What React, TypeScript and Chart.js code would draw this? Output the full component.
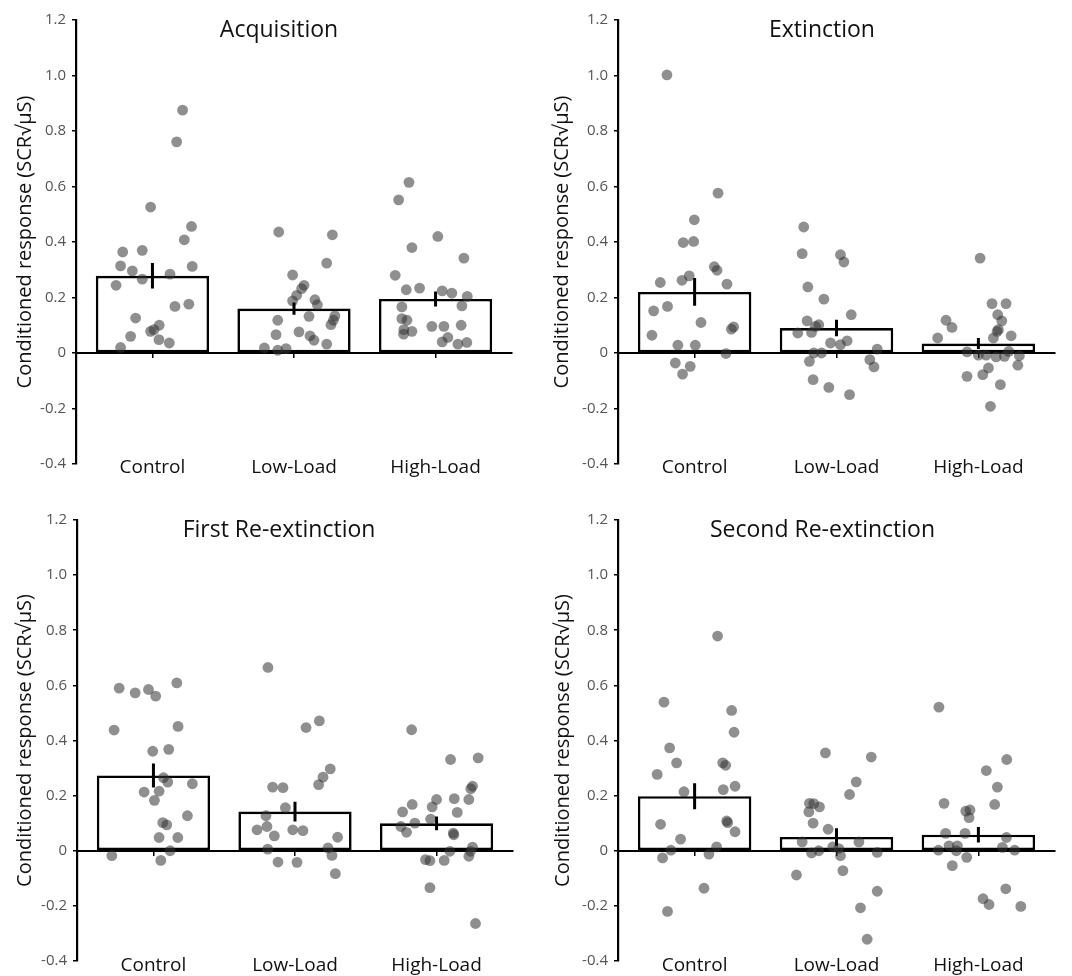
import React, { useEffect, useRef } from "react";
import { Chart, registerables } from "chart.js";

Chart.register(...registerables);

const FONT = "'Open Sans', 'DejaVu Sans', sans-serif";

// ---------- data ----------
const groups = ["Control", "Low-Load", "High-Load"];
const yTickValues = [-0.4, -0.2, 0, 0.2, 0.4, 0.6, 0.8, 1.0, 1.2];
const yAxisLabel = "Conditioned response (SCR\u221A\u03BCS)";

const panelTitles = ["Acquisition", "Extinction", "First Re-extinction", "Second Re-extinction"];

// bar means and standard errors (Control, Low-Load, High-Load)
const acquisitionMeans = [0.278, 0.16, 0.195];
const acquisitionSE = [0.046, 0.022, 0.027];
const extinctionMeans = [0.22, 0.09, 0.034];
const extinctionSE = [0.05, 0.03, 0.02];
const reext1Means = [0.273, 0.142, 0.0995];
const reext1SE = [0.0435, 0.0355, 0.025];
const reext2Means = [0.198, 0.05, 0.058];
const reext2SE = [0.047, 0.0315, 0.028];

// individual participants: [jitter offset from group centre, value]
const acqControl = [[-0.225,0.02],[-0.21,0.364],[-0.225,0.314],[-0.257,0.244],[-0.154,0.06],[-0.119,0.126],[-0.142,0.296],[-0.072,0.37],[-0.072,0.266],[-0.013,0.526],[-0.013,0.078],[0.011,0.084],[0.048,0.10],[0.046,0.048],[0.119,0.036],[0.124,0.284],[0.159,0.168],[0.171,0.761],[0.213,0.875],[0.225,0.408],[0.276,0.456],[0.281,0.312],[0.257,0.176]];
const acqLow = [[-0.108,0.436],[-0.01,0.281],[0.071,0.244],[0.054,0.232],[0.019,0.208],[-0.01,0.188],[0.148,0.192],[0.165,0.174],[0.106,0.132],[-0.115,0.118],[0.231,0.324],[0.271,0.426],[0.289,0.134],[0.278,0.118],[0.261,0.102],[0.035,0.076],[0.113,0.062],[0.141,0.046],[0.231,0.032],[-0.127,0.066],[-0.209,0.018],[-0.115,0.01],[-0.056,0.016]];
const acqHigh = [[-0.188,0.615],[-0.261,0.552],[-0.167,0.38],[0.016,0.42],[0.2,0.342],[-0.285,0.28],[-0.207,0.228],[-0.113,0.234],[0.047,0.224],[0.115,0.216],[0.224,0.204],[0.186,0.17],[-0.238,0.166],[-0.238,0.124],[-0.202,0.118],[-0.224,0.084],[-0.167,0.078],[-0.226,0.068],[-0.026,0.096],[0.059,0.096],[0.181,0.10],[0.087,0.056],[0.047,0.04],[0.158,0.032],[0.221,0.038]];

const extControl = [[-0.195,1.002],[0.165,0.576],[-0.002,0.48],[-0.08,0.398],[-0.007,0.402],[0.139,0.311],[0.158,0.298],[-0.242,0.254],[-0.089,0.262],[-0.038,0.278],[0.228,0.248],[-0.289,0.152],[-0.191,0.168],[0.045,0.11],[-0.301,0.064],[-0.118,0.028],[0.005,0.028],[0.275,0.094],[0.259,0.086],[0.221,-0.002],[-0.136,-0.036],[-0.031,-0.048],[-0.085,-0.076]];
const extLow = [[-0.231,0.454],[-0.242,0.358],[0.028,0.354],[0.052,0.328],[-0.202,0.238],[-0.089,0.194],[0.104,0.138],[-0.207,0.116],[-0.125,0.102],[-0.148,0.096],[-0.176,0.074],[-0.273,0.072],[-0.042,0.036],[0.028,0.03],[0.075,0.044],[0.287,0.014],[-0.16,0.0],[-0.106,0.0],[-0.191,-0.03],[0.235,-0.024],[0.264,-0.05],[-0.165,-0.096],[-0.054,-0.124],[0.092,-0.15]];
const extHigh = [[0.012,0.342],[-0.228,0.118],[-0.186,0.092],[-0.287,0.054],[0.096,0.178],[0.195,0.178],[0.136,0.138],[0.165,0.116],[0.141,0.084],[0.132,0.078],[0.231,0.062],[0.106,0.054],[-0.08,0.004],[0.0,-0.008],[0.054,-0.008],[0.125,-0.014],[0.184,-0.012],[0.214,0.006],[0.289,-0.01],[0.278,-0.044],[0.071,-0.054],[0.031,-0.078],[-0.08,-0.084],[0.155,-0.114],[0.085,-0.192]];

const re1Control = [[-0.242,0.59],[-0.129,0.573],[-0.035,0.585],[0.016,0.561],[0.165,0.609],[-0.278,0.438],[0.174,0.451],[-0.005,0.361],[0.108,0.368],[0.071,0.265],[0.101,0.249],[0.275,0.243],[-0.066,0.213],[0.04,0.216],[0.007,0.183],[0.24,0.127],[0.066,0.102],[0.094,0.094],[0.04,0.048],[0.172,0.048],[0.118,0.0],[-0.294,-0.018],[0.052,-0.035]];
const re1Low = [[-0.191,0.665],[0.172,0.471],[0.078,0.447],[0.249,0.297],[0.198,0.267],[0.167,0.24],[-0.158,0.231],[-0.085,0.229],[-0.068,0.156],[-0.205,0.127],[-0.268,0.076],[-0.198,0.088],[-0.146,0.054],[-0.016,0.076],[0.056,0.073],[0.301,0.049],[-0.193,0.006],[0.233,0.01],[0.261,-0.017],[-0.12,-0.041],[0.014,-0.042],[0.285,-0.083]];
const re1High = [[-0.176,0.439],[0.294,0.337],[0.099,0.331],[0.254,0.234],[0.242,0.225],[0.0,0.186],[0.125,0.189],[0.228,0.186],[-0.172,0.168],[-0.031,0.159],[-0.24,0.141],[0.146,0.139],[-0.042,0.115],[-0.153,0.1],[-0.252,0.088],[-0.212,0.067],[0.118,0.064],[0.122,0.058],[0.254,0.013],[0.24,-0.002],[0.094,-0.002],[0.228,-0.02],[-0.078,-0.032],[-0.047,-0.036],[0.054,-0.035],[-0.047,-0.134],[0.275,-0.264]];

const re2Control = [[0.162,0.779],[-0.216,0.539],[0.261,0.509],[0.278,0.43],[-0.176,0.373],[-0.127,0.319],[0.198,0.319],[0.219,0.31],[-0.264,0.277],[-0.075,0.214],[0.202,0.222],[0.285,0.234],[-0.24,0.096],[0.226,0.108],[0.233,0.102],[0.285,0.069],[-0.099,0.042],[-0.167,0.002],[0.155,0.014],[-0.226,-0.026],[0.101,-0.012],[0.066,-0.136],[-0.191,-0.22]];
const re2Low = [[-0.078,0.355],[0.245,0.34],[0.139,0.25],[0.092,0.204],[-0.191,0.172],[-0.16,0.171],[-0.12,0.159],[-0.195,0.141],[-0.165,0.1],[-0.059,0.078],[-0.242,0.032],[0.158,0.032],[-0.125,0.0],[-0.026,0.014],[0.016,0.008],[-0.176,-0.008],[0.028,-0.018],[0.287,-0.006],[0.045,-0.072],[-0.282,-0.088],[0.287,-0.147],[0.169,-0.207],[0.216,-0.321]];
const re2High = [[-0.278,0.521],[0.2,0.331],[0.056,0.291],[0.134,0.231],[0.115,0.168],[-0.242,0.172],[-0.089,0.144],[-0.059,0.148],[-0.066,0.12],[-0.231,0.063],[-0.094,0.063],[0.198,0.048],[-0.282,0.002],[-0.207,0.018],[-0.148,0.018],[-0.155,0.0],[0.169,0.012],[0.256,0.002],[-0.082,-0.024],[-0.184,-0.054],[0.193,-0.138],[0.033,-0.174],[0.075,-0.195],[0.299,-0.202]];

// ---------- layout per panel (pixels) ----------
const panels = [
  { title: panelTitles[0], means: acquisitionMeans, se: acquisitionSE, points: [acqControl, acqLow, acqHigh],
    left: 0, top: 0, yWidth: 76, padRight: 24, padTop: 20, xHeight: 24, labelPad: -15.4, yTitlePad: 13, titleShift: -15 },
  { title: panelTitles[1], means: extinctionMeans, se: extinctionSE, points: [extControl, extLow, extHigh],
    left: 536, top: 0, yWidth: 82, padRight: 17, padTop: 20, xHeight: 24, labelPad: -14.7, yTitlePad: 14.5, titleShift: -14.5 },
  { title: panelTitles[2], means: reext1Means, se: reext1SE, points: [re1Control, re1Low, re1High],
    left: 0, top: 488, yWidth: 77, padRight: 23, padTop: 32, xHeight: 11, labelPad: -16.4, yTitlePad: 13, titleShift: -16 },
  { title: panelTitles[3], means: reext2Means, se: reext2SE, points: [re2Control, re2Low, re2High],
    left: 536, top: 488, yWidth: 82, padRight: 17, padTop: 32, xHeight: 11, labelPad: -16, yTitlePad: 15, titleShift: -14 },
];

const X_MIN = -0.54;
const X_MAX = 2.54;

const panelTitlePlugin = {
  id: "panelTitle",
  afterDraw(chart: any, _args: any, opts: any) {
    const { ctx, chartArea } = chart;
    if (!opts || !opts.text) return;
    ctx.save();
    ctx.font = `${opts.size}px ${FONT}`;
    ctx.fillStyle = opts.color;
    ctx.textAlign = "center";
    ctx.textBaseline = "alphabetic";
    ctx.fillText(opts.text, (chartArea.left + chartArea.right) / 2 + opts.shift, chartArea.top + opts.baseline);
    ctx.restore();
  },
};

function Panel({ p }: { p: any }) {
  const ref = useRef<HTMLCanvasElement | null>(null);
  useEffect(() => {
    if (!ref.current) return;
    const barData = p.means.map((m: number, i: number) => ({ x: i, y: m }));
    const pointData = p.points.flatMap((g: number[][], i: number) => g.map(([o, v]) => ({ x: i + o, y: v })));
    const errData = p.means.flatMap((m: number, i: number) => [
      { x: i, y: m - p.se[i] },
      { x: i, y: m + p.se[i] },
      { x: i, y: null },
    ]);
    const groupTicks = (s: any) => {
      s.ticks = groups.map((_, i) => ({ value: i }));
    };
    const chart = new Chart(ref.current, {
      type: "bar",
      data: {
        datasets: [
          {
            type: "line",
            data: errData,
            borderColor: "#000",
            borderWidth: 3,
            pointRadius: 0,
            spanGaps: false,
            xAxisID: "x",
            yAxisID: "y",
            order: 1,
          } as any,
          {
            type: "scatter",
            data: pointData,
            backgroundColor: "rgba(51,51,51,0.55)",
            borderWidth: 0,
            pointRadius: 5.4,
            xAxisID: "x",
            yAxisID: "y",
            order: 2,
          } as any,
          {
            type: "bar",
            data: barData,
            backgroundColor: "#ffffff",
            borderColor: "#000",
            borderWidth: 2.6,
            borderSkipped: false,
            categoryPercentage: 1,
            barPercentage: 0.8,
            xAxisID: "x",
            yAxisID: "y",
            order: 3,
          } as any,
        ],
      },
      options: {
        responsive: false,
        animation: false,
        layout: { padding: { left: 0, right: p.padRight, top: p.padTop, bottom: 0 } },
        plugins: {
          legend: { display: false },
          tooltip: { enabled: false },
          title: { display: false },
          panelTitle: { text: p.title, size: 23, color: "#111", shift: p.titleShift, baseline: 16.5 },
        } as any,
        scales: {
          x: {
            type: "linear",
            min: X_MIN,
            max: X_MAX,
            offset: false,
            position: "bottom",
            afterBuildTicks: groupTicks,
            afterFit: (s: any) => {
              s.height = p.xHeight;
            },
            ticks: {
              callback: (v: any) => groups[v] ?? "",
              font: { family: FONT, size: 19 },
              color: "#111",
              padding: p.labelPad,
              mirror: true,
              maxRotation: 0,
              autoSkip: false,
            },
            grid: { display: false, offset: false },
            border: { display: false },
          },
          x0: {
            type: "linear",
            axis: "x",
            min: X_MIN,
            max: X_MAX,
            offset: false,
            position: { y: 0 },
            afterBuildTicks: groupTicks,
            ticks: { display: false },
            grid: { display: true, offset: false, drawOnChartArea: false, drawTicks: true, tickLength: 4, color: "#000", lineWidth: 1.5 },
            border: { display: true, color: "#000", width: 2 },
          },
          y: {
            type: "linear",
            min: -0.4,
            max: 1.2,
            afterBuildTicks: (s: any) => {
              s.ticks = yTickValues.map((v) => ({ value: v }));
            },
            afterFit: (s: any) => {
              s.width = p.yWidth;
            },
            ticks: {
              callback: (v: any) => (Math.abs(v) < 1e-9 ? "0" : Number(v).toFixed(1)),
              font: { family: FONT, size: 15 },
              color: "#555",
              padding: 6,
            },
            grid: { display: true, drawOnChartArea: false, drawTicks: true, tickLength: 4, color: "#000", lineWidth: 1.5 },
            border: { display: true, color: "#000", width: 2.2 },
            title: {
              display: true,
              text: yAxisLabel,
              font: { family: FONT, size: 20 },
              color: "#111",
              padding: { top: p.yTitlePad, bottom: 0 },
            },
          },
        } as any,
      },
      plugins: [panelTitlePlugin as any],
    });
    return () => chart.destroy();
  }, [p]);
  return (
    <div style={{ position: "absolute", left: p.left, top: p.top, width: 536, height: 488 }}>
      <canvas ref={ref} width={536} height={488} style={{ display: "block", width: 536, height: 488 }} />
    </div>
  );
}

export default function App() {
  return (
    <div style={{ position: "absolute", left: 0, top: 0, width: 1072, height: 976, background: "#fff", overflow: "hidden" }}>
      {panels.map((p, i) => (
        <Panel key={i} p={p} />
      ))}
    </div>
  );
}
